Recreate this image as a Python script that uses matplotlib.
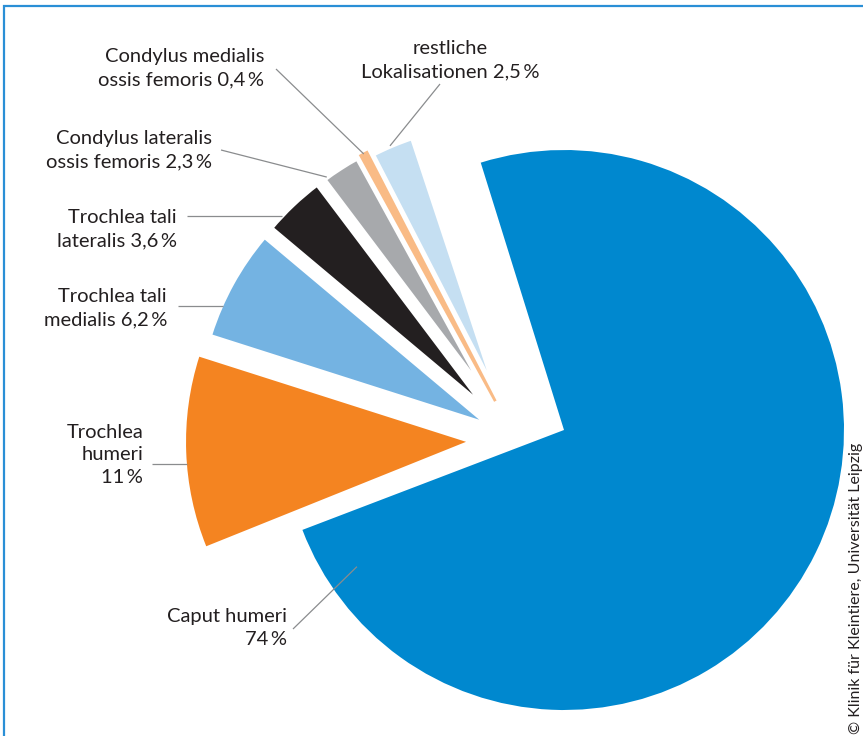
import numpy as np
import matplotlib
matplotlib.use("Agg")
import matplotlib.pyplot as plt
from matplotlib.patches import Rectangle

W, H = 863, 736
DPI = 100

# Data (percent)
names = ["Caput humeri", "Trochlea humeri", "Trochlea tali medialis",
         "Trochlea tali lateralis", "Condylus lateralis ossis femoris",
         "Condylus medialis ossis femoris", "restliche Lokalisationen"]
shares = [74, 11, 6.2, 3.6, 2.3, 0.4, 2.5]
labels = ["Caput humeri\n74\u2009%",
          "Trochlea\nhumeri\n11\u2009%",
          "Trochlea tali\nmedialis 6,2\u2009%",
          "Trochlea tali\nlateralis 3,6\u2009%",
          "Condylus lateralis\nossis femoris 2,3\u2009%",
          "Condylus medialis\nossis femoris 0,4\u2009%",
          "restliche\nLokalisationen 2,5\u2009%"]
colors = ["#0088cf", "#f48421", "#74b3e2", "#231f20", "#a7a9ac", "#f9bb86", "#c5dff2"]

TEXT = "#231f20"
LEAD = "#8a8c8e"
FONT = ["Lato", "DejaVu Sans"]
R = 280


def iy(y):
    # picture y (top down) -> data y (bottom up)
    return H - y


fig = plt.figure(figsize=(W / DPI, H / DPI), dpi=DPI)
ax = fig.add_axes([0, 0, 1, 1])

# big slice on its own centre
big, _ = ax.pie(shares, colors=[colors[0]] + ["none"] * 6, radius=R,
                center=(564, iy(430)), startangle=107.3, counterclock=False,
                wedgeprops=dict(linewidth=0))
# small slices pulled away to the upper left
expl = [0, 50, 42, 44, 44, 44, 40]
small, _ = ax.pie(shares, colors=["none"] + colors[1:], radius=R,
                  center=(516, iy(440)), explode=expl, startangle=108.3,
                  counterclock=False, wedgeprops=dict(linewidth=0))
small[0].set_visible(False)
for i, lw in [(3, 3.0), (4, 4.0), (6, 4.0)]:
    small[i].set_edgecolor("white")
    small[i].set_linewidth(lw)
small[5].set_edgecolor(colors[5])
small[5].set_linewidth(2.0)
small[5].set_zorder(3)

wedges = [big[0]] + list(small[1:])


def arc_point(w, f, fr=1.0):
    t = np.deg2rad(w.theta1 + f * (w.theta2 - w.theta1))
    cx, cy = w.center
    return cx + fr * w.r * np.cos(t), cy + fr * w.r * np.sin(t)


# label block: (x, y, ha) in picture pixels
label_pos = [(287, 628, "right"), (143, 455, "right"), (167, 308, "right"),
             (177, 229, "right"), (212, 150, "right"), (264, 68, "right"),
             (450, 60, "center")]
# leader: start point, and where it ends (fraction along arc, fraction of radius)
lead_start = [(293, 629), (152, None), (178, None), (187, None),
              (221, 150), (276, 69), (440, 84)]
lead_end = [(0.047, 0.886), (0.56, 1), (0.72, 1), (0.74, 1), (0.9, 1),
            (0.5, 1), (0.55, 1)]

for i in range(len(shares)):
    x, y, ha = label_pos[i]
    ax.text(x, iy(y), labels[i], ha=ha, va="center", multialignment=ha,
            fontsize=14.5, color=TEXT, family=FONT, linespacing=1.42)
    ex, ey = arc_point(wedges[i], *lead_end[i])
    sx, sy = lead_start[i]
    sy = ey if sy is None else iy(sy)
    ax.plot([sx, ex], [sy, ey], color=LEAD, lw=0.9, solid_capstyle="butt",
            zorder=4)

ax.text(856, iy(734), "\u00a9 Klinik f\u00fcr Kleintiere, Universit\u00e4t Leipzig",
        rotation=90, ha="center", va="bottom", fontsize=11.5, color=TEXT,
        family=FONT)

# frame, only top and left edges fall inside the picture
ax.add_patch(Rectangle((4, iy(760)), 900, 754, fill=False, edgecolor="#2a8fd6",
                       lw=1.6, clip_on=False))

ax.set_xlim(0, W)
ax.set_ylim(0, H)
ax.set_aspect("equal")
ax.axis("off")

plt.savefig("out.png", dpi=DPI)
